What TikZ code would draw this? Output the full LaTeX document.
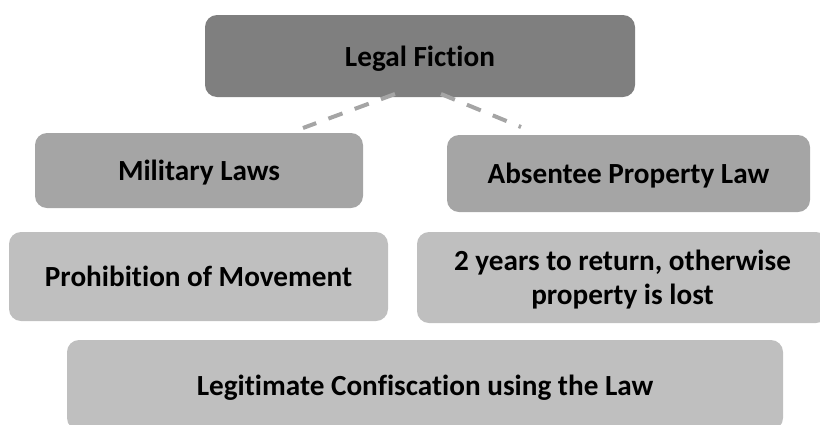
\documentclass[tikz,border=0pt]{standalone}
\usepackage{fontspec}
\setmainfont{Carlito}[Ligatures=NoCommon]
\definecolor{topgray}{HTML}{7F7F7F}
\definecolor{midgray}{HTML}{A5A5A5}
\definecolor{lowgray}{HTML}{BFBFBF}
\tikzset{
  box/.style={rounded corners=12pt, inner sep=0pt, align=center,
    font=\fontsize{29.2}{34}\selectfont\bfseries, text=black},
  oneline/.style={text height=22pt, text depth=2pt},
  topbox/.style={box, oneline, fill=topgray},
  midbox/.style={box, oneline, fill=midgray},
  lowbox/.style={box, fill=lowgray},
  link/.style={draw=midgray, line width=4pt, dash pattern=on 15pt off 13pt}
}
\begin{document}
\begin{tikzpicture}[x=1pt,y=-1pt]
\useasboundingbox (0,0) rectangle (820,424);
\clip (0,0) rectangle (820,424);
\node[topbox, minimum width=430pt, minimum height=82pt] (fiction) at (420,56) {Legal Fiction};
\node[midbox, minimum width=328pt, minimum height=75pt] (military) at (199,170.5) {Military Laws};
\node[midbox, minimum width=363pt, minimum height=77pt] (absentee) at (628.5,173.5) {Absentee Property Law};
\node[lowbox, oneline, minimum width=379pt, minimum height=89pt] (prohib) at (198.5,276.5) {Prohibition of Movement};
\node[lowbox, text depth=0pt, minimum width=411pt, minimum height=91pt] (years) at (622.5,277.5) {2 years to return, otherwise\\property is lost};
\node[lowbox, oneline, minimum width=716pt, minimum height=90pt] (confisc) at (425,385) {Legitimate Confiscation using the Law};
\coordinate (la) at (395,94);
\coordinate (lb) at (303,128);
\coordinate (ra) at (441,94);
\coordinate (rb) at (521,127);
\draw[link] (la) -- (lb);
\draw[link] (ra) -- (rb);
\end{tikzpicture}
\end{document}
